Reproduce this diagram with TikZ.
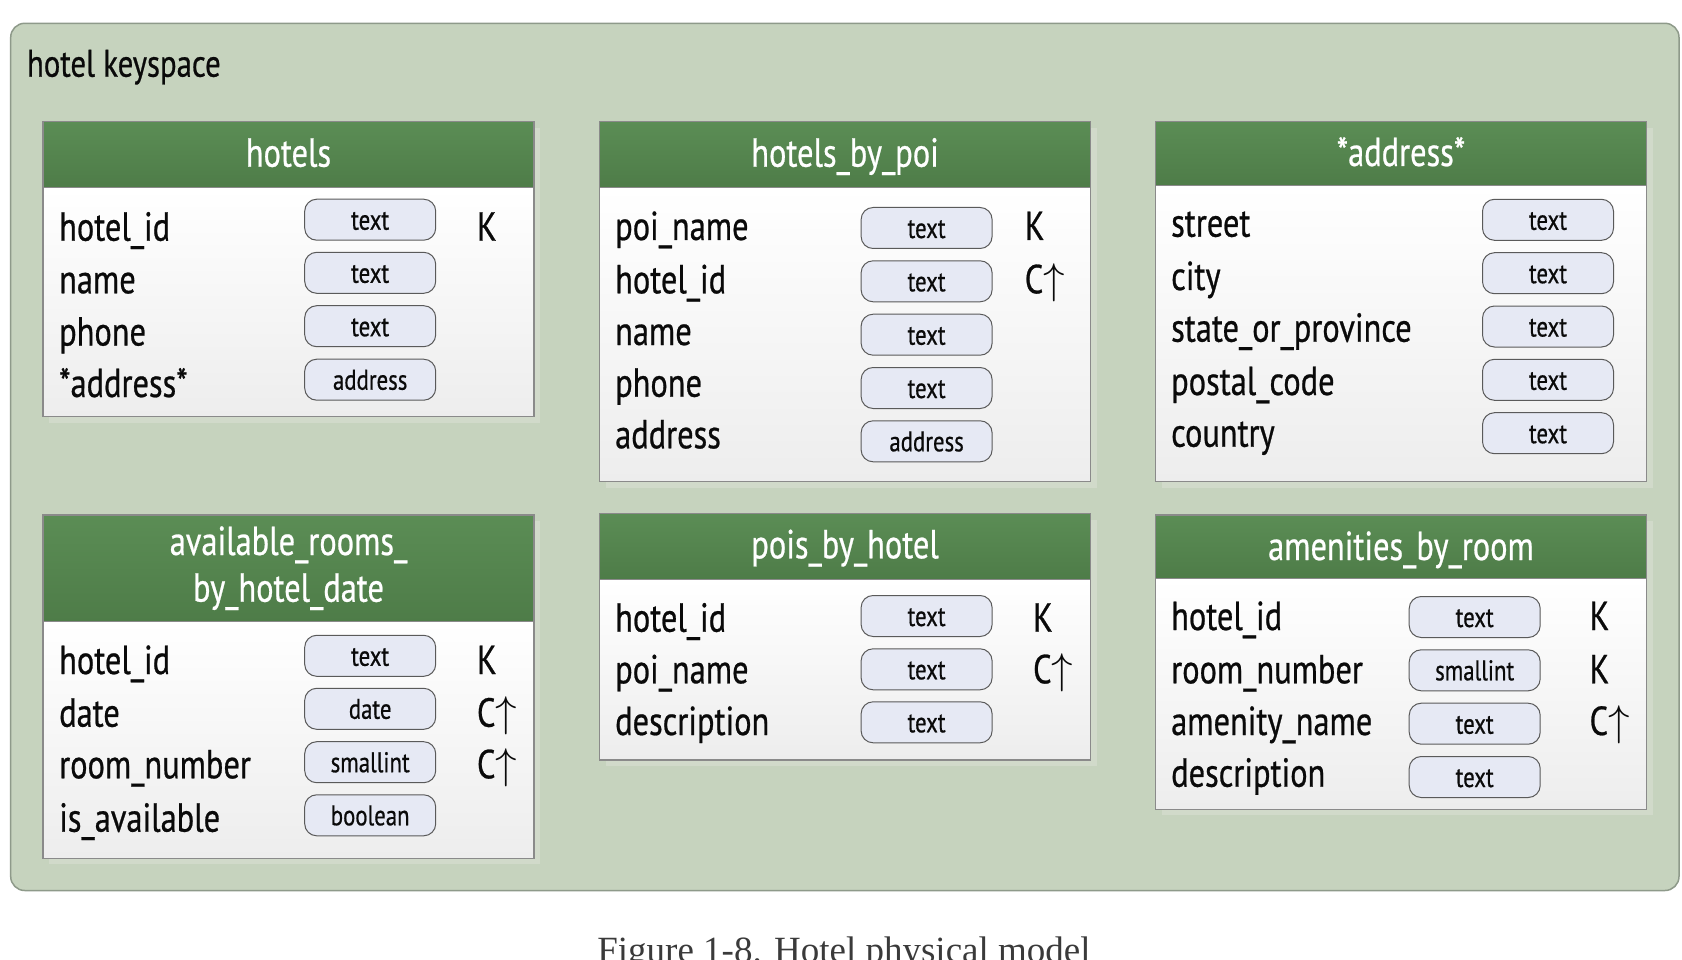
\documentclass[tikz,border=0pt]{standalone}
\usepackage{graphicx}
\usepackage{fontspec}
\setmainfont[FakeStretch=0.80,FakeBold=0.6]{PT Sans}
\newfontfamily\capfont{Liberation Serif}
\definecolor{bgc}{HTML}{C6D3BE}
\definecolor{bgline}{HTML}{8E9A8A}
\definecolor{hdtop}{HTML}{5B8D55}
\definecolor{hdbot}{HTML}{4E7C48}
\definecolor{bdtop}{HTML}{FFFFFF}
\definecolor{bdbot}{HTML}{EDEDED}
\definecolor{tline}{HTML}{8A8A8A}
\definecolor{pillfill}{HTML}{E6E9F4}
\definecolor{pillline}{HTML}{5A5A5A}
\definecolor{shadowc}{HTML}{D1DACA}
\definecolor{capc}{HTML}{3A3A3A}
\definecolor{txtc}{HTML}{0A0A0A}
\tikzset{
  fieldtxt/.style={anchor=base west, inner sep=0pt, font=\fontsize{40.5}{46}\selectfont, text=txtc},
  keytxt/.style={anchor=base west, inner sep=0pt, font=\fontsize{40.5}{46}\selectfont, text=txtc},
  headtxt/.style={anchor=base, inner sep=0pt, font=\fontsize{40.5}{46}\selectfont, text=white},
  pill/.style={draw=pillline, fill=pillfill, line width=1pt, rounded corners=12pt,
    minimum width=131pt, minimum height=41pt, inner sep=0pt, text height=20pt, text depth=0pt,
    font=\fontsize{28.5}{30}\selectfont, text=txtc},
}
\newcommand\dbtable[4]{% x, top, header bottom, bottom
  \fill[shadowc] (#1+6,#2+6) rectangle (#1+497,#4+6);
  \shade[top color=bdtop, bottom color=bdbot] (#1,#3) rectangle (#1+491,#4);
  \shade[top color=hdtop, bottom color=hdbot] (#1,#2) rectangle (#1+491,#3);
  \draw[tline, line width=1.2pt] (#1,#2) rectangle (#1+491,#4);
  \draw[tline, line width=1pt] (#1,#3) -- (#1+491,#3);
}
\newcommand\fld[4]{\node[fieldtxt] (#1) at (#2,#3) {#4};}
\newcommand\pil[4]{\node[pill] (#1) at (#2,#3) {#4};}
\newcommand\kee[4]{\node[keytxt] (#1) at (#2,#3) {#4};}
\newcommand\Carr{C{\fontsize{10}{12}\selectfont\scalebox{4.3}{$\uparrow$}}}
\begin{document}
\begin{tikzpicture}[x=1pt,y=-1pt]
\useasboundingbox (0,0) rectangle (1682,960);
\clip (0,0) rectangle (1682,960);
% outer keyspace
\draw[fill=bgc, draw=bgline, line width=1.5pt, rounded corners=14pt] (10.7,23.3) rectangle (1679,890.5);
\node[anchor=base west, inner sep=0pt, font=\fontsize{38.5}{44}\selectfont, text=txtc] (ks) at (26.8,76.7) {hotel keyspace};

% ---- hotels
\dbtable{43}{121.7}{187.7}{416.7}
\node[headtxt] (t1) at (288.5,166.7) {hotels};
\fld{t1a}{59}{240.7}{hotel\_id}
\fld{t1b}{59}{293.3}{name}
\fld{t1c}{59}{345.5}{phone}
\fld{t1d}{59}{397}{*address*}
\pil{t1pa}{370.2}{219.7}{text}
\pil{t1pb}{370.2}{272.8}{text}
\pil{t1pc}{370.2}{326.2}{text}
\pil{t1pd}{370.2}{379.7}{address}
\kee{t1ka}{476.8}{240.7}{K}

% ---- hotels_by_poi
\dbtable{599.6}{121.7}{187.7}{481.7}
\node[headtxt] (t2) at (845.1,166.7) {hotels\_by\_poi};
\fld{t2a}{615}{240}{poi\_name}
\fld{t2b}{615}{293.3}{hotel\_id}
\fld{t2c}{615}{345}{name}
\fld{t2d}{615}{396.7}{phone}
\fld{t2e}{615}{448.3}{address}
\pil{t2pa}{926.6}{228}{text}
\pil{t2pb}{926.6}{281.3}{text}
\pil{t2pc}{926.6}{334.7}{text}
\pil{t2pd}{926.6}{388}{text}
\pil{t2pe}{926.6}{441.3}{address}
\kee{t2ka}{1024.6}{240}{K}
\kee{t2kb}{1024.6}{293.3}{\Carr}

% ---- *address*
\dbtable{1155.5}{121.7}{185.5}{481.7}
\node[headtxt] (t3) at (1401,166) {*address*};
\fld{t3a}{1171}{236.7}{street}
\fld{t3b}{1171}{290}{city}
\fld{t3c}{1171}{341.7}{state\_or\_province}
\fld{t3d}{1171}{395}{postal\_code}
\fld{t3e}{1171}{446.7}{country}
\pil{t3pa}{1548}{219.8}{text}
\pil{t3pb}{1548}{273.2}{text}
\pil{t3pc}{1548}{326.5}{text}
\pil{t3pd}{1548}{379.8}{text}
\pil{t3pe}{1548}{433.2}{text}

% ---- available_rooms_by_hotel_date
\dbtable{43}{515}{621.7}{858.3}
\node[headtxt] (t4l1) at (288.5,555) {available\_rooms\_};
\node[headtxt] (t4l2) at (288.5,601.7) {by\_hotel\_date};
\fld{t4a}{59}{674}{hotel\_id}
\fld{t4b}{59}{726.7}{date}
\fld{t4c}{59}{778.3}{room\_number}
\fld{t4d}{59}{831.7}{is\_available}
\pil{t4pa}{370.2}{655.8}{text}
\pil{t4pb}{370.2}{708.8}{date}
\pil{t4pc}{370.2}{762.2}{smallint}
\pil{t4pd}{370.2}{815.3}{boolean}
\kee{t4ka}{476.8}{674}{K}
\kee{t4kb}{476.8}{726.7}{\Carr}
\kee{t4kc}{476.8}{778.3}{\Carr}

% ---- pois_by_hotel
\dbtable{599.6}{513.5}{579.3}{760}
\node[headtxt] (t5) at (845.1,558.3) {pois\_by\_hotel};
\fld{t5a}{615}{631.7}{hotel\_id}
\fld{t5b}{615}{683.3}{poi\_name}
\fld{t5c}{615}{735}{description}
\pil{t5pa}{926.6}{616}{text}
\pil{t5pb}{926.6}{669.3}{text}
\pil{t5pc}{926.6}{722.3}{text}
\kee{t5ka}{1032.9}{631.7}{K}
\kee{t5kb}{1032.9}{683.3}{\Carr}

% ---- amenities_by_room
\dbtable{1155.5}{515}{578.3}{809.3}
\node[headtxt] (t6) at (1401,560) {amenities\_by\_room};
\fld{t6a}{1171}{630}{hotel\_id}
\fld{t6b}{1171}{683.3}{room\_number}
\fld{t6c}{1171}{735}{amenity\_name}
\fld{t6d}{1171}{786.7}{description}
\pil{t6pa}{1474.7}{617}{text}
\pil{t6pb}{1474.7}{670.3}{smallint}
\pil{t6pc}{1474.7}{723.7}{text}
\pil{t6pd}{1474.7}{777}{text}
\kee{t6ka}{1589.4}{630}{K}
\kee{t6kb}{1589.4}{683.3}{K}
\kee{t6kc}{1589.4}{735}{\Carr}

% caption
\node[anchor=base, inner sep=0pt, font=\capfont\fontsize{37}{40}\selectfont, text=capc] (cap) at (844,962.5) {Figure 1-8. Hotel physical model};
\end{tikzpicture}
\end{document}
